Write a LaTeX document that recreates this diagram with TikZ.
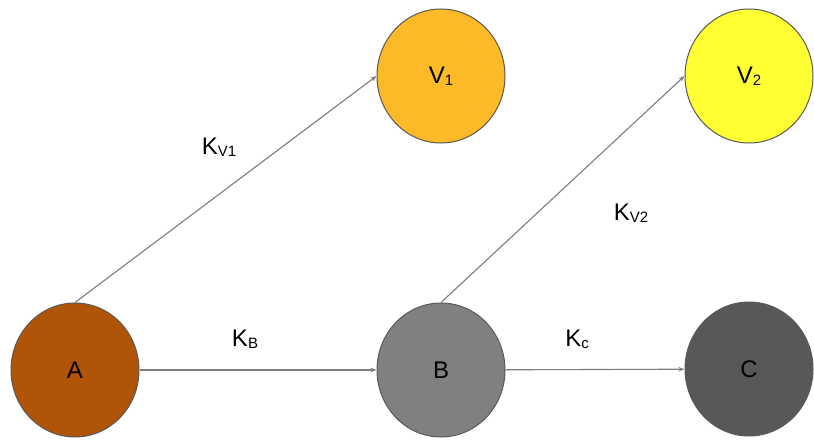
\documentclass[tikz,border=0pt]{standalone}
\usepackage{fontspec}
\setmainfont{Liberation Sans}
\usepackage{xcolor}
\usetikzlibrary{arrows.meta, shapes.geometric}
\definecolor{rustorange}{RGB}{176,84,8}
\definecolor{amber}{RGB}{252,185,40}
\definecolor{lemon}{RGB}{255,255,51}
\definecolor{midgray}{RGB}{128,128,128}
\definecolor{slategray}{RGB}{88,88,88}
\definecolor{edgegray}{RGB}{125,125,125}
\newcommand{\subtxt}[2]{#1\raisebox{-2pt}{\fontsize{15}{15}\selectfont #2}}

\begin{document}
\begin{tikzpicture}[x=1pt, y=-1pt,
  >={Stealth[length=6pt, width=4.5pt]},
  every node/.style={font=\fontsize{24}{28}\selectfont},
  species/.style={ellipse, draw=black!65, line width=1pt, minimum width=128pt,
                  minimum height=134pt, inner sep=0pt},
  rate/.style={->, draw=edgegray, line width=1.1pt}
]
\useasboundingbox (0,0) rectangle (814,444);
\node[species, fill=rustorange] (A)  at (75,370)  {A};
\node[species, fill=midgray]    (B)  at (441,370) {B};
\node[species, fill=slategray]  (C)  at (749,369) {C};
\node[species, fill=amber]      (V1) at (441,76)  {\subtxt{V}{1}};
\node[species, fill=lemon]      (V2) at (749,76)  {\subtxt{V}{2}};
\draw[rate] (A.north) -- (V1.west);
\draw[rate] (B.north) -- (V2.west);
\draw[rate] (A) -- (B);
\draw[rate] (B) -- (C);
\node (kv1) at (219,147) {\subtxt{K}{V1}};
\node (kv2) at (631,213) {\subtxt{K}{V2}};
\node (kb)  at (245,339) {\subtxt{K}{B}};
\node (kc)  at (577,339) {\subtxt{K}{c}};
\end{tikzpicture}
\end{document}
